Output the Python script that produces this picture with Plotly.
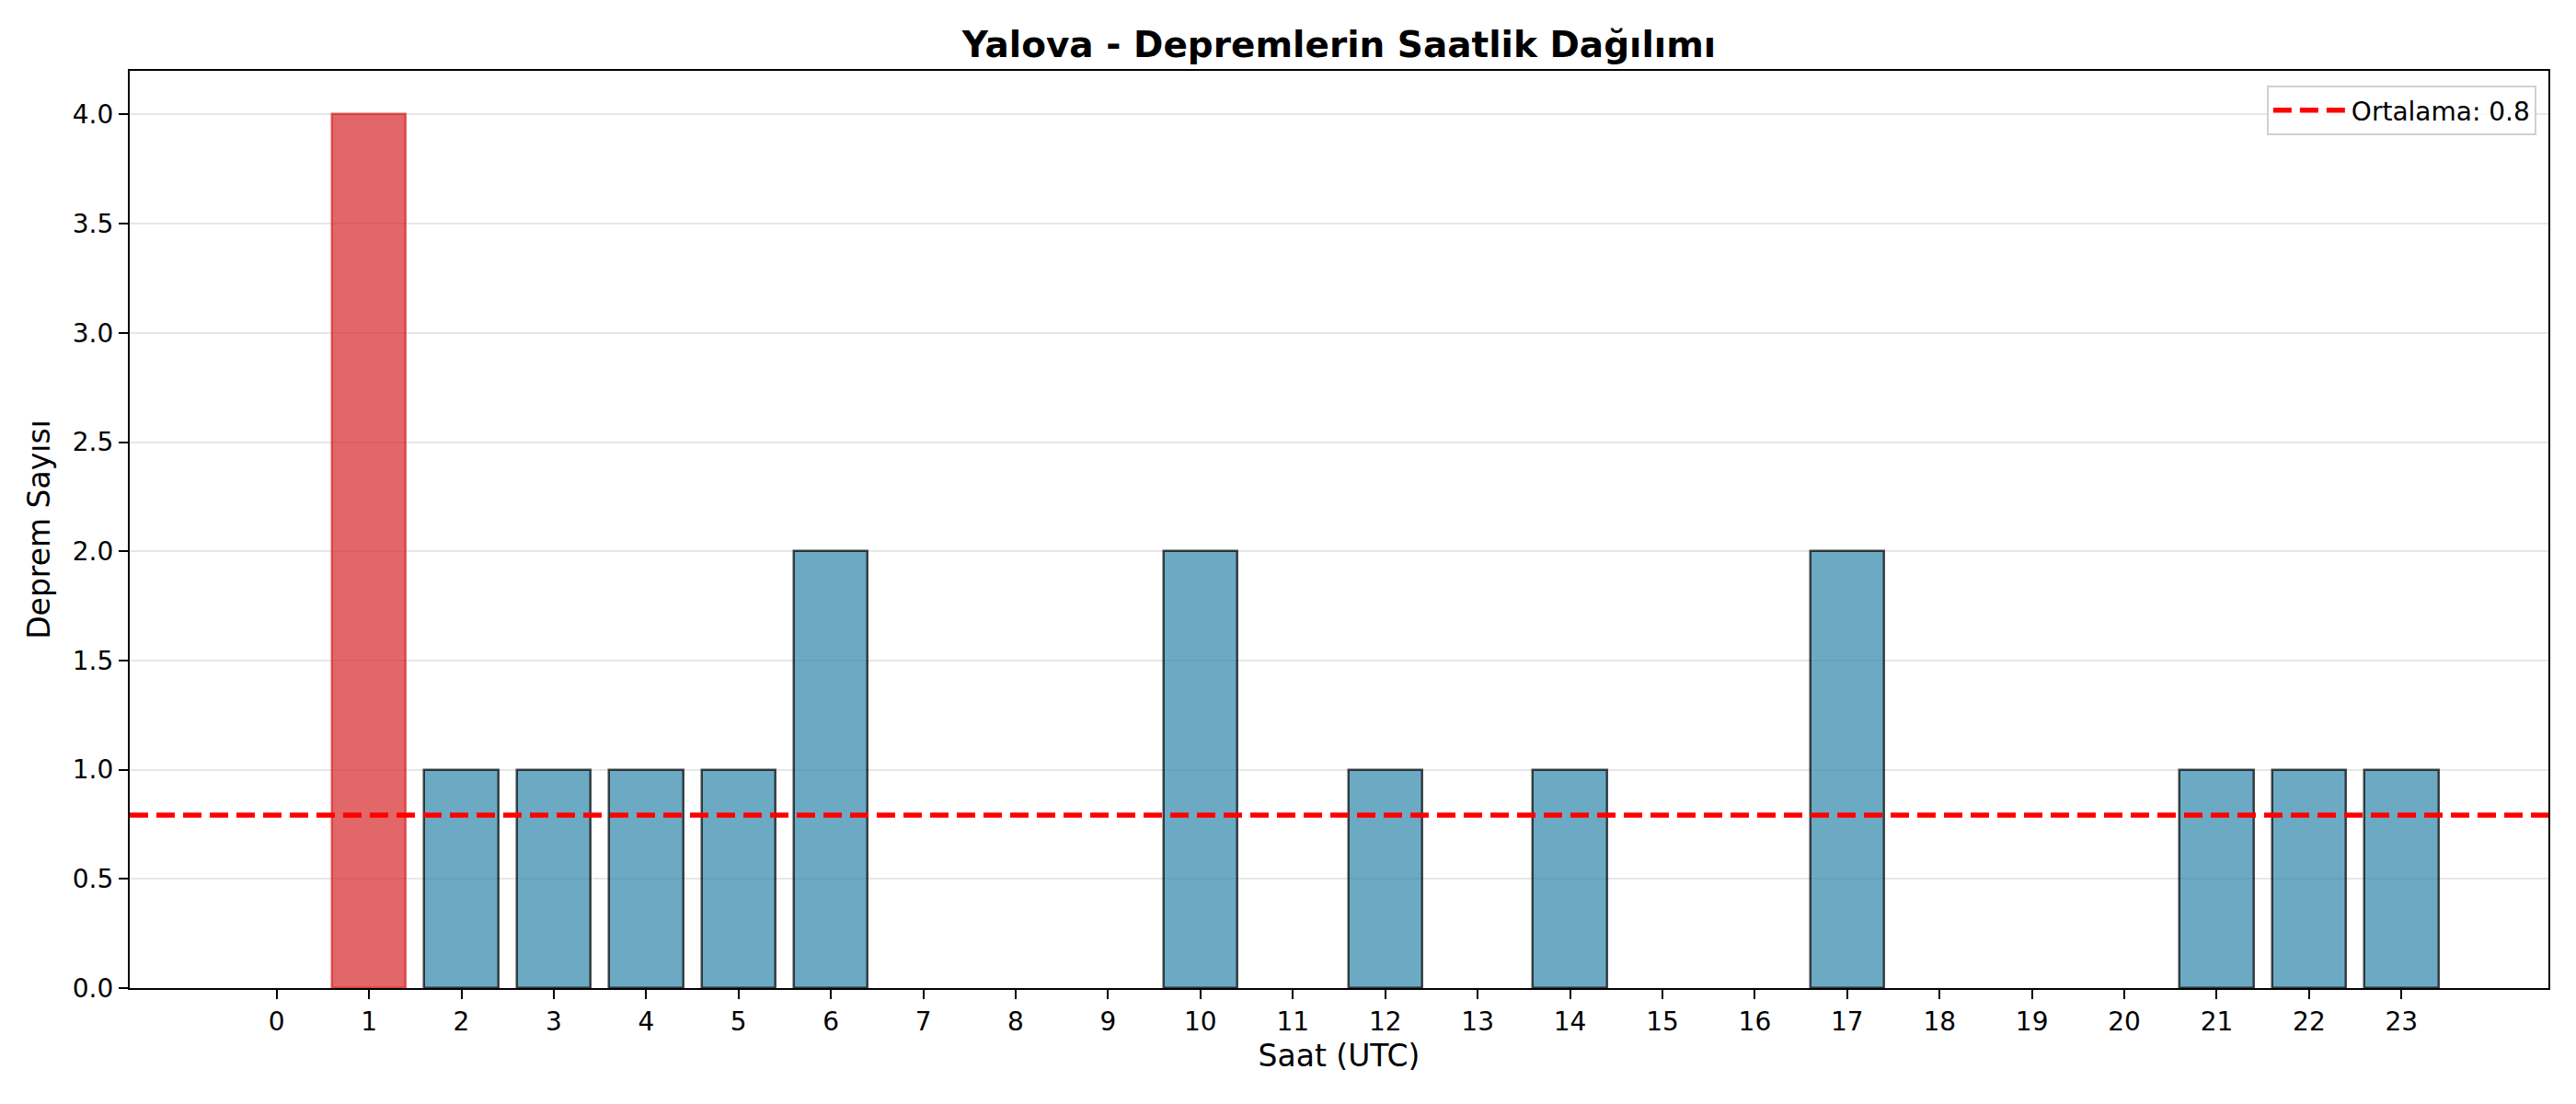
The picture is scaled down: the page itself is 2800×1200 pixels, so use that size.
import plotly.graph_objects as go

hours = list(range(24))
counts = [0, 4, 1, 1, 1, 1, 2, 0, 0, 0, 2, 0, 1, 0, 1, 0, 0, 2, 0, 0, 0, 1, 1, 1]
hour_labels = [str(h) for h in hours]
title_text = "Yalova - Depremlerin Saatlik Dağılımı"
x_title = "Saat (UTC)"
y_title = "Deprem Sayısı"

mean_val = sum(counts) / len(counts)
max_val = max(counts)

fill_colors = ["rgba(214,39,40,0.7)" if c == max_val else "rgba(46,134,171,0.7)" for c in counts]
line_colors = ["rgba(214,39,40,0.7)" if c == max_val else "rgba(0,0,0,0.7)" for c in counts]
line_widths = [2.5 if c > 0 else 0 for c in counts]

FONT = "DejaVu Sans"
W, H = 2792, 1192  # page body has an 8px margin
L, R, T, B = 133, 30, 69, 126

fig = go.Figure()
fig.add_trace(go.Bar(
    x=hours, y=counts, width=0.8,
    marker=dict(color=fill_colors, line=dict(color=line_colors, width=line_widths)),
    showlegend=False,
))
fig.add_trace(go.Scatter(
    x=[None], y=[None], mode="lines",
    line=dict(color="#ff0000", width=5.5, dash="20px,9px"),
    name=f"Ortalama: {mean_val:.1f}",
))
fig.add_shape(type="line", xref="paper", x0=0, x1=1, yref="y", y0=mean_val, y1=mean_val,
              line=dict(color="#ff0000", width=5.5, dash="20px,9px"), layer="above")

fig.update_layout(
    width=W, height=H,
    margin=dict(l=L, r=R, t=T, b=B),
    paper_bgcolor="white", plot_bgcolor="white",
    font=dict(family=FONT, size=28, color="black"),
    title=dict(text=f"<b>{title_text}</b>", x=(L + (W - R)) / 2 / W, xanchor="center",
               y=1 - 40 / H, yanchor="middle", font=dict(size=39, family=FONT)),
    legend=dict(x=0.995, xanchor="right", y=0.984, yanchor="top",
                bordercolor="#d0d0d0", borderwidth=2, bgcolor="rgba(255,255,255,0.8)",
                font=dict(size=28, family=FONT), itemwidth=80),
    bargap=0,
)
fig.update_xaxes(
    range=[-1.59, 24.59], tickmode="array", tickvals=hours, ticktext=hour_labels,
    showgrid=False, zeroline=False, showline=True, linecolor="black", linewidth=2.2, mirror=True,
    ticks="outside", ticklen=10, tickwidth=2, tickcolor="black",
    tickfont=dict(size=28), title=dict(text=x_title, font=dict(size=33), standoff=10),
)
fig.update_yaxes(
    range=[0, 4.2], dtick=0.5, tick0=0, tickformat=".1f",
    showgrid=True, gridcolor="#e6e6e6", gridwidth=2, zeroline=False,
    showline=True, linecolor="black", linewidth=2.2, mirror=True,
    ticks="outside", ticklen=10, tickwidth=2, tickcolor="black",
    tickfont=dict(size=28), title=dict(text=y_title, font=dict(size=33), standoff=14),
)

fig.write_html("out.html")
